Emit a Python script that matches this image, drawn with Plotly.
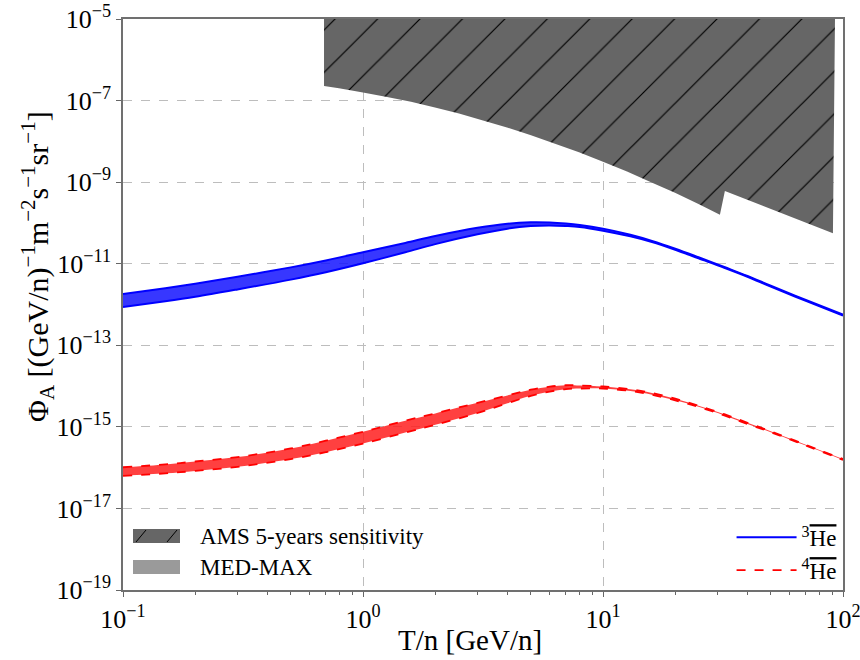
import plotly.graph_objects as go

# ---------------- data ----------------
T = [0.1, 0.15, 0.2, 0.3, 0.5, 0.7, 1.0, 1.5, 2.0, 3.0, 4.0, 5.0, 6.0, 7.0,
     8.0, 10, 13, 16, 20, 25, 32, 40, 50, 70, 100]

he3_log_up = [-11.74, -11.60, -11.49, -11.32, -11.09, -10.92, -10.72, -10.49,
              -10.32, -10.12, -10.02, -9.985, -9.99, -10.015, -10.05, -10.14,
              -10.29, -10.44, -10.63, -10.84, -11.08, -11.30, -11.54, -11.89,
              -12.25]
he3_log_lo = [-12.06, -11.92, -11.81, -11.63, -11.39, -11.21, -10.99, -10.72,
              -10.52, -10.28, -10.14, -10.075, -10.06, -10.075, -10.10, -10.19,
              -10.33, -10.47, -10.66, -10.87, -11.10, -11.32, -11.56, -11.91,
              -12.27]

he4_log_up = [-15.99, -15.92, -15.85, -15.74, -15.53, -15.34, -15.12, -14.85,
              -14.67, -14.41, -14.23, -14.09, -14.015, -13.98, -13.985, -14.01,
              -14.08, -14.17, -14.31, -14.48, -14.69, -14.90, -15.11, -15.44,
              -15.79]
he4_log_lo = [-16.20, -16.14, -16.08, -15.98, -15.79, -15.62, -15.41, -15.14,
              -14.95, -14.66, -14.42, -14.24, -14.135, -14.075, -14.06, -14.06,
              -14.12, -14.21, -14.35, -14.51, -14.72, -14.93, -15.13, -15.46,
              -15.81]

ams_T = [0.688, 0.794, 1.0, 1.259, 1.585, 1.995, 2.512, 3.162, 3.981, 5.012,
         6.310, 7.943, 10.0, 12.59, 15.85, 19.95, 25.12, 30.7, 32.2, 90.8,
         92.6, 0.688]
ams_log = [-6.64, -6.70, -6.80, -6.91, -7.03, -7.17, -7.32, -7.49, -7.66,
           -7.85, -8.06, -8.27, -8.50, -8.74, -9.00, -9.26, -9.54, -9.80,
           -9.22, -10.25, -5.0, -5.0]

x_tick_exp = [-1, 0, 1, 2]
y_tick_exp = [-5, -7, -9, -11, -13, -15, -17, -19]

legend_left_labels = ["AMS 5-years sensitivity", "MED-MAX"]

# ---------------- figure ----------------
FONT = "Liberation Serif"
W, H = 860, 660
ML, MR, MT, MB = 123, 17, 19, 70
PW, PH = W - ML - MR, H - MT - MB


def pw(arr):
    return [10.0 ** v for v in arr]


def sup(e):
    return f"10<sup>{str(e).replace('-', '−')}</sup>"


def px(xp):   # pixel -> paper x
    return (xp - ML) / PW


def py(yp):   # pixel -> paper y
    return (H - MB - yp) / PH


HE_BAR = '<span style="text-decoration:overline">He</span>'

fig = go.Figure()

# AMS sensitivity region (hatched)
fig.add_trace(go.Scatter(
    x=ams_T, y=pw(ams_log), mode="none", fill="toself",
    fillcolor="#666666",
    fillpattern=dict(shape="/", bgcolor="#666666", fgcolor="black",
                     size=30, solidity=0.04, fgopacity=1),
    name=legend_left_labels[0], showlegend=False, hoverinfo="skip"))

# 3He band
fig.add_trace(go.Scatter(
    x=T, y=pw(he3_log_up), mode="lines",
    line=dict(color="blue", width=2, shape="spline", smoothing=1),
    name="<sup>3</sup>" + HE_BAR, legend="legend2", showlegend=True))
fig.add_trace(go.Scatter(
    x=T, y=pw(he3_log_lo), mode="lines",
    line=dict(color="blue", width=2, shape="spline", smoothing=1),
    fill="tonexty", fillcolor="rgba(20,20,255,0.85)", showlegend=False))

# 4He band
fig.add_trace(go.Scatter(
    x=T, y=pw(he4_log_up), mode="lines",
    line=dict(color="red", width=1.8, dash="dash", shape="spline", smoothing=1),
    name="<sup>4</sup>" + HE_BAR, legend="legend2", showlegend=True))
fig.add_trace(go.Scatter(
    x=T, y=pw(he4_log_lo), mode="lines",
    line=dict(color="red", width=1.8, dash="dash", shape="spline", smoothing=1),
    fill="tonexty", fillcolor="rgba(255,30,30,0.85)", showlegend=False))

minor_x = [k * 10.0 ** e for e in range(-1, 2) for k in range(2, 10)]

axis_common = dict(
    ticks="outside", ticklen=5, tickcolor="#666", tickwidth=1.2,
    showline=True, linecolor="#707070", linewidth=1.5, mirror=True,
    showgrid=True, gridcolor="#bdbdbd", griddash="dash", gridwidth=1,
    tickfont=dict(size=26, family=FONT, color="black"),
    zeroline=False, automargin=False, ticklabeloverflow="allow",
)

# manual left legend (patches with hatch)
shapes = [
    dict(type="rect", xref="paper", yref="paper",
         x0=px(133), x1=px(180), y0=py(543), y1=py(529),
         fillcolor="#666666", line=dict(width=0), layer="above"),
    dict(type="line", xref="paper", yref="paper",
         x0=px(136), x1=px(146), y0=py(542), y1=py(530),
         line=dict(color="black", width=1), layer="above"),
    dict(type="line", xref="paper", yref="paper",
         x0=px(167), x1=px(177), y0=py(542), y1=py(530),
         line=dict(color="black", width=1), layer="above"),
    dict(type="rect", xref="paper", yref="paper",
         x0=px(133), x1=px(180), y0=py(574), y1=py(560),
         fillcolor="#9a9a9a", line=dict(width=0), layer="above"),
]

annotations = [
    dict(text=legend_left_labels[0], xref="paper", yref="paper",
         x=px(198), y=py(536), xanchor="left", yanchor="middle",
         showarrow=False, font=dict(size=23, family=FONT)),
    dict(text=legend_left_labels[1], xref="paper", yref="paper",
         x=px(198), y=py(567), xanchor="left", yanchor="middle",
         showarrow=False, font=dict(size=23, family=FONT)),
    dict(text="T/n [GeV/n]", xref="paper", yref="paper",
         x=px(470), y=py(640), xanchor="center", yanchor="middle",
         showarrow=False, font=dict(size=29, family=FONT)),
    dict(text="Φ<sub>A</sub> [(GeV/n)<sup>−1</sup>m<sup>−2</sup>s<sup>−1</sup>sr<sup>−1</sup>]",
         xref="paper", yref="paper", x=px(37), y=py(267),
         xanchor="center", yanchor="middle", textangle=-90,
         showarrow=False, font=dict(size=30, family=FONT)),
]

fig.update_layout(
    width=W, height=H,
    margin=dict(l=ML, r=MR, t=MT, b=MB),
    plot_bgcolor="white", paper_bgcolor="white",
    font=dict(family=FONT, color="black", size=22),
    xaxis=dict(
        type="log", range=[-1, 2],
        tickvals=[10.0 ** e for e in x_tick_exp],
        ticktext=[sup(e) for e in x_tick_exp],
        minor=dict(tickvals=minor_x, ticks="outside", ticklen=3,
                   tickcolor="#666", showgrid=False),
        **axis_common),
    yaxis=dict(
        type="log", range=[-19, -5],
        tickvals=[10.0 ** e for e in y_tick_exp],
        ticktext=[sup(e) for e in y_tick_exp],
        **axis_common),
    legend2=dict(x=0.998, y=0.13, xanchor="right", yanchor="top",
                 bgcolor="rgba(0,0,0,0)", font=dict(size=23, family=FONT),
                 itemwidth=60, tracegroupgap=0, traceorder="normal"),
    showlegend=True,
    shapes=shapes,
    annotations=annotations,
)

fig.write_html("out.html")
